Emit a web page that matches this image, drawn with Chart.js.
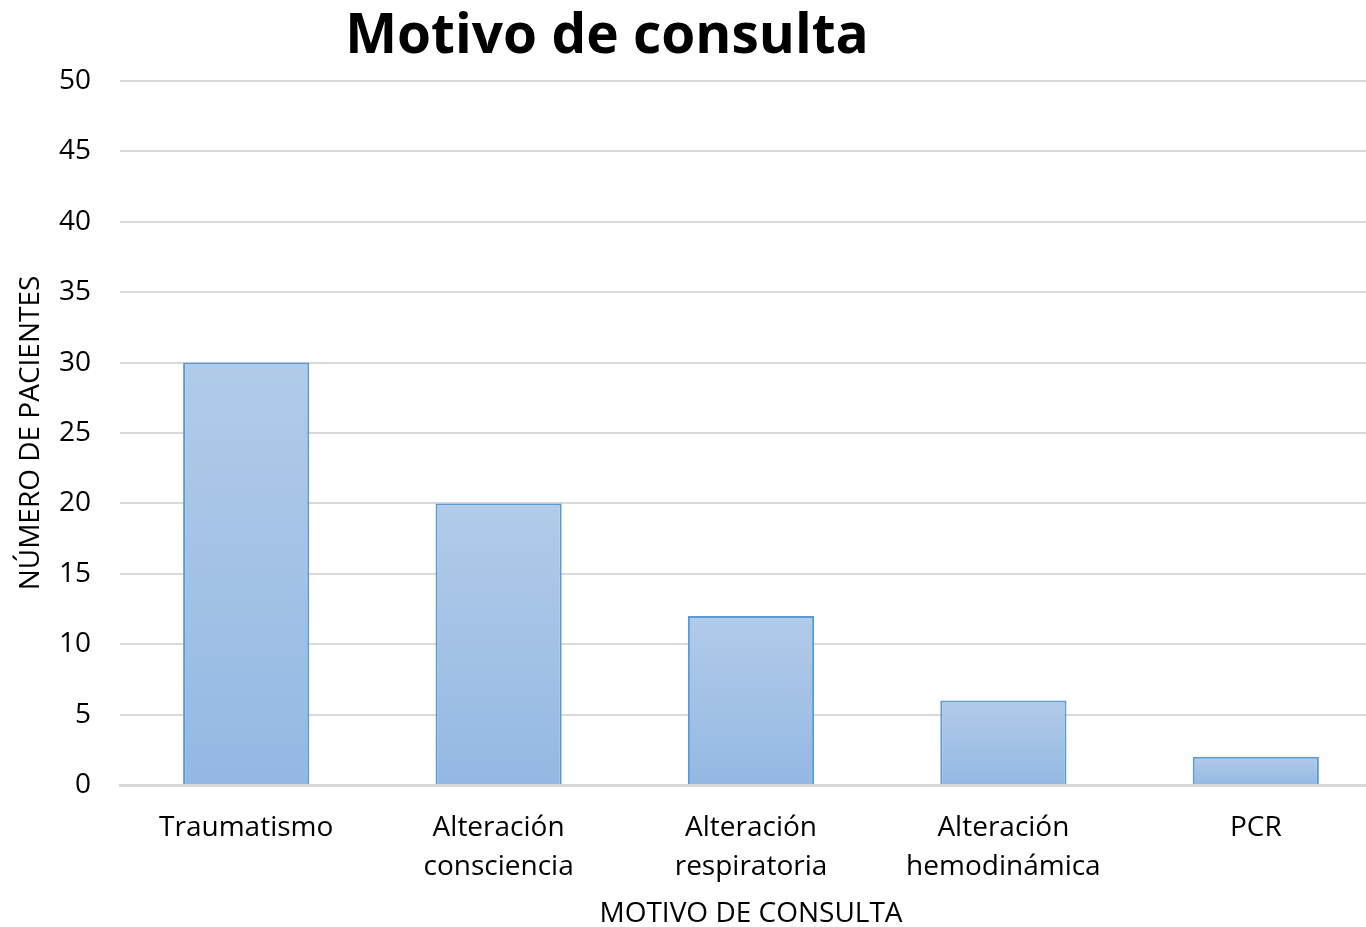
<!DOCTYPE html>
<html>
<head>
<meta charset="utf-8">
<script src="https://cdn.jsdelivr.net/npm/chart.js@4"></script>
<style>
  html, body { margin: 0; padding: 0; background: #fff; overflow: hidden; }
  #wrap { width: 1366px; height: 927px; overflow: hidden; }
</style>
</head>
<body>
<div id="wrap"><canvas id="motivoChart" width="1382" height="927"></canvas></div>
<script>
const categorias = [
    'Traumatismo',
    ['Alteración', 'consciencia'],
    ['Alteración', 'respiratoria'],
    ['Alteración', 'hemodinámica'],
    'PCR'
];
const pacientes = [30, 20, 12, 6, 2];
const tituloGrafico = 'Motivo de consulta';
const tituloEjeX = 'MOTIVO DE CONSULTA';
const tituloEjeY = 'NÚMERO DE PACIENTES';

const FONT = '"Open Sans", Lato, sans-serif';

// title sits left of centre in the original, so draw it ourselves
const titlePlugin = {
    id: 'leftTitle',
    afterDraw(chart) {
        const ctx = chart.ctx;
        ctx.save();
        ctx.font = 'bold 55px ' + FONT;
        ctx.fillStyle = '#000';
        ctx.textAlign = 'center';
        ctx.textBaseline = 'alphabetic';
        ctx.fillText(tituloGrafico, 607, 53);
        ctx.restore();
    }
};

function barGradient(context) {
    const chart = context.chart;
    const y = chart.scales.y;
    if (!chart.chartArea || !y) return '#A4C2E6';
    const v = context.raw;
    const top = y.getPixelForValue(v);
    const bottom = y.getPixelForValue(0);
    if (!isFinite(top) || !isFinite(bottom) || top === bottom) return '#A4C2E6';
    const g = chart.ctx.createLinearGradient(0, top, 0, bottom);
    g.addColorStop(0, '#B1CBE9');
    g.addColorStop(1, '#94B8E3');
    return g;
}

const ctx = document.getElementById('motivoChart').getContext('2d');
new Chart(ctx, {
    type: 'bar',
    data: {
        labels: categorias,
        datasets: [{
            data: pacientes,
            backgroundColor: barGradient,
            borderColor: '#5B9BD5',
            borderWidth: 2,
            borderSkipped: 'bottom',
            categoryPercentage: 1,
            barPercentage: 0.5
        }]
    },
    options: {
        responsive: false,
        animation: false,
        layout: { padding: { top: 81, right: 0, bottom: 0, left: 0 } },
        plugins: {
            legend: { display: false },
            title: { display: false },
            tooltip: { enabled: false }
        },
        scales: {
            y: {
                min: 0,
                max: 50,
                ticks: {
                    stepSize: 5,
                    color: '#000',
                    padding: 29,
                    font: { family: FONT, size: 28 }
                },
                grid: {
                    color: '#D9D9D9',
                    lineWidth: 2,
                    drawTicks: false
                },
                border: { display: false },
                title: {
                    display: true,
                    text: tituloEjeY,
                    color: '#000',
                    font: { family: FONT, size: 28 },
                    padding: { top: 14, bottom: 0 }
                },
                afterFit(scale) { scale.width = 120; }
            },
            x: {
                ticks: {
                    color: '#000',
                    padding: 23,
                    maxRotation: 0,
                    autoSkip: false,
                    font: { family: FONT, size: 28, lineHeight: 1.4 }
                },
                grid: { display: false, drawTicks: false },
                border: { display: true, color: '#D9D9D9', width: 3 },
                title: {
                    display: true,
                    text: tituloEjeX,
                    color: '#000',
                    font: { family: FONT, size: 28 },
                    padding: { top: 0, bottom: -4 }
                },
                afterFit(scale) { scale.height = 142; }
            }
        }
    },
    plugins: [titlePlugin]
});
</script>
</body>
</html>
